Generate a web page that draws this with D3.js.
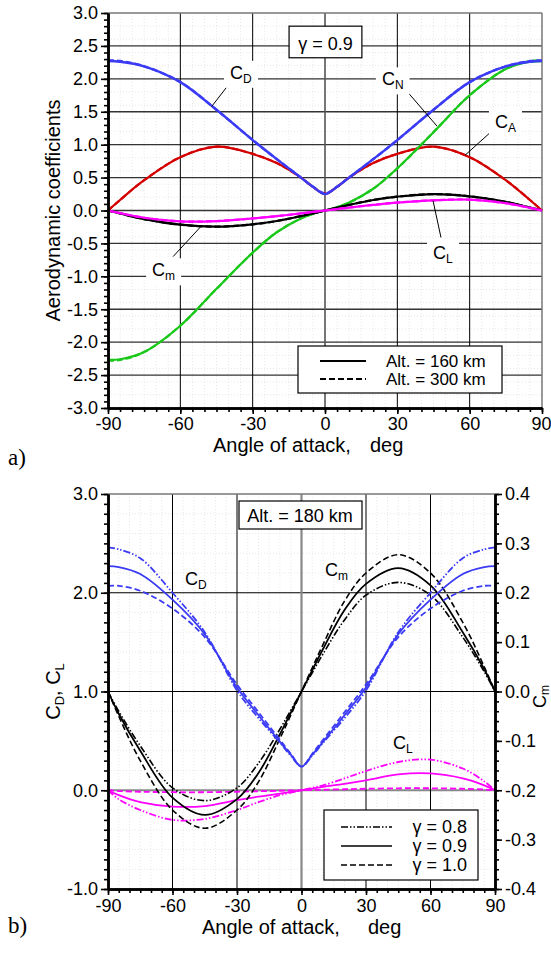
<!DOCTYPE html>
<html>
<head>
<meta charset="utf-8">
<script src="https://cdn.jsdelivr.net/npm/d3@7"></script>
<style>
body{margin:0;background:#fff;}
svg{display:block;font-family:"Liberation Sans",Arial,sans-serif;}
</style>
</head>
<body>
<div id="wrapper"></div>
<script>
// angle of attack, deg (shared by every series)
const angles = [-90,-85,-75,-60,-45,-30,-20,-10,-5,0,5,10,20,30,45,60,75,85,90];

// a) gamma = 0.9, Alt. = 160 km (solid)
const cdA160 = [2.27,2.26,2.19,1.95,1.53,1.07,0.78,0.50,0.36,0.25,0.36,0.50,0.78,1.07,1.53,1.95,2.19,2.26,2.27];
const cnA160 = [-2.27,-2.26,-2.15,-1.75,-1.19,-0.64,-0.33,-0.12,-0.05,0,0.05,0.12,0.33,0.64,1.19,1.75,2.15,2.26,2.27];
const caA160 = [0,0.16,0.46,0.81,0.97,0.86,0.72,0.50,0.36,0.25,0.36,0.50,0.72,0.86,0.97,0.81,0.46,0.16,0];
const cmA160 = [0,-0.045,-0.13,-0.215,-0.245,-0.21,-0.16,-0.085,-0.043,0,0.043,0.085,0.16,0.21,0.25,0.215,0.13,0.045,0];
const clA160 = [0,-0.04,-0.11,-0.165,-0.16,-0.12,-0.085,-0.045,-0.022,0,0.022,0.045,0.085,0.12,0.155,0.165,0.11,0.04,0];
// a) gamma = 0.9, Alt. = 300 km (dashed)
const cdA300 = [2.28,2.27,2.19,1.95,1.53,1.07,0.78,0.50,0.36,0.26,0.36,0.50,0.78,1.07,1.53,1.95,2.19,2.27,2.28];
const cnA300 = [-2.28,-2.27,-2.15,-1.75,-1.19,-0.64,-0.33,-0.12,-0.05,0,0.05,0.12,0.33,0.64,1.19,1.75,2.15,2.27,2.28];
const caA300 = [0,0.16,0.46,0.81,0.97,0.86,0.72,0.50,0.36,0.26,0.36,0.50,0.72,0.86,0.97,0.81,0.46,0.16,0];
const cmA300 = [0,-0.045,-0.13,-0.215,-0.245,-0.21,-0.16,-0.085,-0.043,0,0.043,0.085,0.16,0.21,0.25,0.215,0.13,0.045,0];
const clA300 = [0,-0.04,-0.11,-0.165,-0.16,-0.12,-0.085,-0.045,-0.022,0,0.022,0.045,0.085,0.12,0.155,0.165,0.11,0.04,0];

// b) Alt. = 180 km, gamma = 0.8 / 0.9 / 1.0
const cdB08 = [2.46,2.44,2.35,2.00,1.60,1.01,0.73,0.48,0.35,0.24,0.35,0.48,0.73,1.01,1.60,2.00,2.35,2.44,2.46];
const cdB09 = [2.27,2.26,2.19,1.93,1.58,1.04,0.76,0.49,0.36,0.24,0.36,0.49,0.76,1.04,1.58,1.93,2.19,2.26,2.27];
const cdB10 = [2.07,2.07,2.02,1.84,1.55,1.07,0.79,0.51,0.37,0.24,0.37,0.51,0.79,1.07,1.55,1.84,2.02,2.07,2.07];
const clB08 = [0,-0.09,-0.2,-0.3,-0.29,-0.2,-0.12,-0.05,-0.025,0,0.025,0.05,0.12,0.195,0.286,0.31,0.22,0.09,0];
const clB09 = [0,-0.05,-0.12,-0.165,-0.16,-0.1,-0.065,-0.035,-0.017,0,0.017,0.035,0.065,0.1,0.16,0.17,0.12,0.05,0];
const clB10 = [0,-0.008,-0.015,-0.02,-0.02,-0.015,-0.01,-0.005,-0.002,0,0.002,0.005,0.01,0.015,0.02,0.02,0.015,0.008,0];
const cmB08 = [0,-0.04,-0.11,-0.195,-0.221,-0.195,-0.145,-0.076,-0.038,0,0.038,0.076,0.145,0.195,0.221,0.195,0.11,0.04,0];
const cmB09 = [0,-0.045,-0.12,-0.215,-0.25,-0.218,-0.165,-0.086,-0.043,0,0.043,0.086,0.165,0.218,0.25,0.215,0.12,0.045,0];
const cmB10 = [0,-0.05,-0.14,-0.24,-0.277,-0.24,-0.183,-0.095,-0.048,0,0.048,0.095,0.183,0.24,0.277,0.24,0.14,0.05,0];

// tick labels
const xTicks = [-90,-60,-30,0,30,60,90];
const yTicksA = [-3,-2.5,-2,-1.5,-1,-0.5,0,0.5,1,1.5,2,2.5,3];
const yTicksB = [-1,0,1,2,3];
const yTicksBm = [-0.4,-0.3,-0.2,-0.1,0,0.1,0.2,0.3,0.4];

const colors = {cd:"#3b3bf5", cn:"#19c819", ca:"#d40000", cm:"#000000", cl:"#ff00ff"};
const dashed = "6,3";
const dashdot = "7,2,1.5,2,1.5,2";

const width = 551, height = 954;
const svg = d3.select("#wrapper").append("svg")
    .attr("width", width).attr("height", height);

const fmt = d => d.toFixed(1);
const fmtX = d => String(d);

function drawSeries(g, x, y, vals, color, dash, w){
    const line = d3.line()
        .x((d, i) => x(angles[i]))
        .y(d => y(d))
        .curve(d3.curveCatmullRom.alpha(0.5));
    g.append("path")
        .attr("d", line(vals))
        .attr("fill", "none")
        .attr("stroke", color)
        .attr("stroke-width", w)
        .attr("stroke-dasharray", dash);
}

function coefLabel(g, px, py, main, sub, bg){
    const t = g.append("text").attr("x", px).attr("y", py).style("font-size", "18px");
    t.append("tspan").text(main);
    t.append("tspan").attr("dy", 4).style("font-size", "12px").text(sub);
    if(bg){
        const b = t.node().getBBox();
        g.insert("rect", "text")
            .attr("x", b.x - 6).attr("y", b.y - 2)
            .attr("width", b.width + 12).attr("height", b.height + 4)
            .attr("fill", "#fff");
    }
}

function leader(g, x1, y1, x2, y2){
    g.append("line").attr("x1", x1).attr("y1", y1).attr("x2", x2).attr("y2", y2)
        .attr("stroke", "#000").attr("stroke-width", 1);
}

function styleAxis(sel, w){
    sel.select(".domain").attr("stroke", "#000").attr("stroke-width", w);
    sel.selectAll(".tick line").attr("stroke", "#000").attr("stroke-width", 1.6);
    sel.selectAll(".tick text").style("font-size", "18px").attr("fill", "#000")
        .style("font-family", "'Liberation Sans', Arial, sans-serif");
}

// ---------------- panel a) ----------------
const xA = d3.scaleLinear().domain([-90, 90]).range([108, 542]);
const yA = d3.scaleLinear().domain([-3, 3]).range([408, 13]);
const gA = svg.append("g");

// faint dotted minor grid
gA.selectAll(".vdot").data(d3.range(-85, 90, 5)).join("line")
    .attr("x1", d => xA(d)).attr("x2", d => xA(d)).attr("y1", yA(3)).attr("y2", yA(-3))
    .attr("stroke", "#d8d8d8").attr("stroke-width", 0.6).attr("stroke-dasharray", "1,2");
gA.selectAll(".hdot").data(d3.range(-2.8, 3, 0.2)).join("line")
    .attr("y1", d => yA(d)).attr("y2", d => yA(d)).attr("x1", xA(-90)).attr("x2", xA(90))
    .attr("stroke", "#d8d8d8").attr("stroke-width", 0.6).attr("stroke-dasharray", "1,2");

// major grid
gA.selectAll(".hgrid").data(yTicksA.slice(1, -1)).join("line")
    .attr("y1", d => yA(d)).attr("y2", d => yA(d)).attr("x1", xA(-90)).attr("x2", xA(90))
    .attr("stroke", "#333").attr("stroke-width", 1.3);
gA.selectAll(".vgrid").data(xTicks.slice(1, -1)).join("line")
    .attr("x1", d => xA(d)).attr("x2", d => xA(d)).attr("y1", yA(3)).attr("y2", yA(-3))
    .attr("stroke", d => d === 0 ? "#555" : "#000").attr("stroke-width", d => d === 0 ? 1.6 : 1);
// top & right frame
gA.append("line").attr("x1", xA(-90)).attr("x2", xA(90)).attr("y1", yA(3)).attr("y2", yA(3))
    .attr("stroke", "#777").attr("stroke-width", 1.5);
gA.append("line").attr("x1", xA(90)).attr("x2", xA(90)).attr("y1", yA(3)).attr("y2", yA(-3))
    .attr("stroke", "#777").attr("stroke-width", 1.5);

// curves
const curvesA = gA.append("g");
drawSeries(curvesA, xA, yA, caA160, colors.ca, null, 2.2);
drawSeries(curvesA, xA, yA, caA300, colors.ca, dashed, 2.2);
drawSeries(curvesA, xA, yA, cnA160, colors.cn, null, 2.2);
drawSeries(curvesA, xA, yA, cnA300, colors.cn, dashed, 2.2);
drawSeries(curvesA, xA, yA, cdA160, colors.cd, null, 2.4);
drawSeries(curvesA, xA, yA, cdA300, colors.cd, dashed, 2.4);
drawSeries(curvesA, xA, yA, cmA160, colors.cm, null, 2.2);
drawSeries(curvesA, xA, yA, cmA300, colors.cm, dashed, 2.2);
drawSeries(curvesA, xA, yA, clA160, colors.cl, null, 2.2);
drawSeries(curvesA, xA, yA, clA300, colors.cl, dashed, 2.2);

// axes
const axA_left = gA.append("g").attr("transform", `translate(${xA(-90)},0)`)
    .call(d3.axisLeft(yA).tickValues(yTicksA).tickFormat(fmt).tickSize(7).tickSizeOuter(0).tickPadding(3));
styleAxis(axA_left, 2.5);
const axA_leftMinor = gA.append("g").attr("transform", `translate(${xA(-90)},0)`)
    .call(d3.axisLeft(yA).tickValues(d3.range(-3, 3.01, 0.1)).tickFormat("").tickSize(4).tickSizeOuter(0));
styleAxis(axA_leftMinor, 2.5);
const axA_bottom = gA.append("g").attr("transform", `translate(0,${yA(-3)})`)
    .call(d3.axisBottom(xA).tickValues(xTicks).tickFormat(fmtX).tickSize(6).tickSizeOuter(0).tickPadding(3));
styleAxis(axA_bottom, 2.5);
// keep the last label inside the page edge
axA_bottom.selectAll(".tick text").filter(d => d === 90).attr("text-anchor", "end").attr("dx", 9);
const axA_bottomMinor = gA.append("g").attr("transform", `translate(0,${yA(-3)})`)
    .call(d3.axisBottom(xA).tickValues(d3.range(-90, 91, 5)).tickFormat("").tickSize(4).tickSizeOuter(0));
styleAxis(axA_bottomMinor, 2.5);

// axis titles
svg.append("text").attr("transform", `translate(60,${yA(0)}) rotate(-90)`)
    .attr("text-anchor", "middle").style("font-size", "20px").text("Aerodynamic coefficients");
svg.append("text").attr("x", 213).attr("y", 452).style("font-size", "20px").text("Angle of attack,");
svg.append("text").attr("x", 370).attr("y", 452).style("font-size", "20px").text("deg");
svg.append("text").attr("x", 8).attr("y", 465)
    .style("font-family", "'Liberation Serif', 'DejaVu Serif', serif").style("font-size", "23px").text("a)");

// gamma box
const gBoxA = gA.append("g");
gBoxA.append("rect").attr("x", xA(-14.9)).attr("y", yA(2.8)).attr("width", xA(15.3) - xA(-14.9))
    .attr("height", yA(2.32) - yA(2.8)).attr("fill", "#fff").attr("stroke", "#000").attr("stroke-width", 1.2);
gBoxA.append("text").attr("x", xA(0.2)).attr("y", yA(2.44)).attr("text-anchor", "middle")
    .style("font-size", "18px").text("\u03b3 = 0.9");

// coefficient labels
const labA = gA.append("g");
leader(labA, xA(-39.8), yA(1.92), xA(-47), yA(1.58));
leader(labA, xA(34), yA(1.81), xA(46.5), yA(1.28));
leader(labA, xA(68.1), yA(1.17), xA(58.1), yA(0.84));
leader(labA, xA(48.1), yA(-0.41), xA(44.8), yA(0.15));
leader(labA, xA(-63), yA(-0.7), xA(-51.4), yA(-0.24));
coefLabel(labA, xA(-39.4), yA(2.0), "C", "D", true);
coefLabel(labA, xA(23.6), yA(1.9), "C", "N", true);
coefLabel(labA, xA(70.5), yA(1.26), "C", "A", true);
coefLabel(labA, xA(44.8), yA(-0.73), "C", "L", true);
coefLabel(labA, xA(-71.7), yA(-1.0), "C", "m", true);

// legend a)
const legA = gA.append("g");
legA.append("rect").attr("x", 298).attr("y", 346).attr("width", 204).attr("height", 47)
    .attr("fill", "#fff").attr("stroke", "#000").attr("stroke-width", 1.2);
[["Alt. = 160 km", null, 361], ["Alt. = 300 km", dashed, 379]].forEach(([txt, dash, ly]) => {
    legA.append("line").attr("x1", 320).attr("x2", 366).attr("y1", ly).attr("y2", ly)
        .attr("stroke", "#000").attr("stroke-width", 1.8).attr("stroke-dasharray", dash);
    legA.append("text").attr("x", 386).attr("y", ly + 6).style("font-size", "17px").text(txt);
});

// ---------------- panel b) ----------------
const xB = d3.scaleLinear().domain([-90, 90]).range([108, 495]);
const yB = d3.scaleLinear().domain([-1, 3]).range([889, 494]);
const yBm = d3.scaleLinear().domain([-0.4, 0.4]).range([889, 494]);
const gB = svg.append("g");

gB.selectAll(".vdot").data(d3.range(-85, 90, 5)).join("line")
    .attr("x1", d => xB(d)).attr("x2", d => xB(d)).attr("y1", yB(3)).attr("y2", yB(-1))
    .attr("stroke", "#d8d8d8").attr("stroke-width", 0.6).attr("stroke-dasharray", "1,2");
gB.selectAll(".hdot").data(d3.range(-0.8, 3, 0.2)).join("line")
    .attr("y1", d => yB(d)).attr("y2", d => yB(d)).attr("x1", xB(-90)).attr("x2", xB(90))
    .attr("stroke", "#d8d8d8").attr("stroke-width", 0.6).attr("stroke-dasharray", "1,2");

gB.selectAll(".hgrid").data(yTicksB.slice(1, -1)).join("line")
    .attr("y1", d => yB(d)).attr("y2", d => yB(d)).attr("x1", xB(-90)).attr("x2", xB(90))
    .attr("stroke", d => d === 0 ? "#888" : "#000").attr("stroke-width", d => d === 0 ? 2.2 : 1);
gB.selectAll(".vgrid").data(xTicks.slice(1, -1)).join("line")
    .attr("x1", d => xB(d)).attr("x2", d => xB(d)).attr("y1", yB(3)).attr("y2", yB(-1))
    .attr("stroke", d => d === 0 ? "#888" : "#000").attr("stroke-width", d => d === 0 ? 2.2 : 1);
gB.append("line").attr("x1", xB(-90)).attr("x2", xB(90)).attr("y1", yB(3)).attr("y2", yB(3))
    .attr("stroke", "#777").attr("stroke-width", 1.5);

const curvesB = gB.append("g");
drawSeries(curvesB, xB, yB, clB10, colors.cl, dashed, 1.8);
drawSeries(curvesB, xB, yB, clB09, colors.cl, null, 1.8);
drawSeries(curvesB, xB, yB, clB08, colors.cl, dashdot, 1.8);
drawSeries(curvesB, xB, yBm, cmB10, colors.cm, dashed, 1.6);
drawSeries(curvesB, xB, yBm, cmB09, colors.cm, null, 1.8);
drawSeries(curvesB, xB, yBm, cmB08, colors.cm, dashdot, 1.6);
drawSeries(curvesB, xB, yB, cdB10, colors.cd, dashed, 1.8);
drawSeries(curvesB, xB, yB, cdB09, colors.cd, null, 1.8);
drawSeries(curvesB, xB, yB, cdB08, colors.cd, dashdot, 1.8);

const axB_left = gB.append("g").attr("transform", `translate(${xB(-90)},0)`)
    .call(d3.axisLeft(yB).tickValues(yTicksB).tickFormat(fmt).tickSize(7).tickSizeOuter(0).tickPadding(3));
styleAxis(axB_left, 2.5);
const axB_leftMinor = gB.append("g").attr("transform", `translate(${xB(-90)},0)`)
    .call(d3.axisLeft(yB).tickValues(d3.range(-1, 3.01, 0.1)).tickFormat("").tickSize(4).tickSizeOuter(0));
styleAxis(axB_leftMinor, 2.5);
const axB_right = gB.append("g").attr("transform", `translate(${xB(90)},0)`)
    .call(d3.axisRight(yBm).tickValues(yTicksBm).tickFormat(fmt).tickSize(7).tickSizeOuter(0).tickPadding(3));
styleAxis(axB_right, 2.5);
const axB_rightMinor = gB.append("g").attr("transform", `translate(${xB(90)},0)`)
    .call(d3.axisRight(yBm).tickValues(d3.range(-0.4, 0.401, 0.02)).tickFormat("").tickSize(4).tickSizeOuter(0));
styleAxis(axB_rightMinor, 2.5);
const axB_bottom = gB.append("g").attr("transform", `translate(0,${yB(-1)})`)
    .call(d3.axisBottom(xB).tickValues(xTicks).tickFormat(fmtX).tickSize(6).tickSizeOuter(0).tickPadding(4));
styleAxis(axB_bottom, 2.5);
const axB_bottomMinor = gB.append("g").attr("transform", `translate(0,${yB(-1)})`)
    .call(d3.axisBottom(xB).tickValues(d3.range(-90, 91, 5)).tickFormat("").tickSize(4).tickSizeOuter(0));
styleAxis(axB_bottomMinor, 2.5);

// axis titles b)
const ytB = svg.append("text").attr("transform", `translate(60,${yB(1)}) rotate(-90)`)
    .attr("text-anchor", "middle").style("font-size", "20px");
ytB.append("tspan").text("C");
ytB.append("tspan").attr("dy", 4).style("font-size", "13px").text("D");
ytB.append("tspan").attr("dy", -4).text(", C");
ytB.append("tspan").attr("dy", 4).style("font-size", "13px").text("L");
// right title squeezed against the page edge
const ytBm = svg.append("text").attr("transform", `translate(546,${yBm(-0.01)}) rotate(-90)`)
    .attr("text-anchor", "middle").style("font-size", "18px");
ytBm.append("tspan").text("C");
ytBm.append("tspan").attr("dy", 3).style("font-size", "12px").text("m");
svg.append("text").attr("x", 202).attr("y", 934).style("font-size", "20px").text("Angle of attack,");
svg.append("text").attr("x", 368).attr("y", 934).style("font-size", "20px").text("deg");
svg.append("text").attr("x", 8).attr("y", 933)
    .style("font-family", "'Liberation Serif', 'DejaVu Serif', serif").style("font-size", "23px").text("b)");

// altitude box
const gBoxB = gB.append("g");
gBoxB.append("rect").attr("x", 239).attr("y", 501).attr("width", 123).attr("height", 28)
    .attr("fill", "#fff").attr("stroke", "#000").attr("stroke-width", 1.2);
gBoxB.append("text").attr("x", 300).attr("y", 522).attr("text-anchor", "middle")
    .style("font-size", "18px").text("Alt. = 180 km");

const labB = gB.append("g");
coefLabel(labB, xB(-54.2), yB(2.08), "C", "D", false);
coefLabel(labB, xB(10.9), yB(2.17), "C", "m", false);
coefLabel(labB, xB(42.6), yB(0.42), "C", "L", false);

// legend b)
const legB = gB.append("g");
legB.append("rect").attr("x", 324).attr("y", 810).attr("width", 154).attr("height", 70)
    .attr("fill", "#fff").attr("stroke", "#000").attr("stroke-width", 1.2);
[["\u03b3 = 0.8", dashdot, 827], ["\u03b3 = 0.9", null, 846], ["\u03b3 = 1.0", dashed, 865]].forEach(([txt, dash, ly]) => {
    legB.append("line").attr("x1", 341).attr("x2", 392).attr("y1", ly).attr("y2", ly)
        .attr("stroke", "#000").attr("stroke-width", 1.6).attr("stroke-dasharray", dash);
    legB.append("text").attr("x", 467).attr("y", ly + 6).attr("text-anchor", "end")
        .style("font-size", "18px").text(txt);
});
</script>
</body>
</html>
